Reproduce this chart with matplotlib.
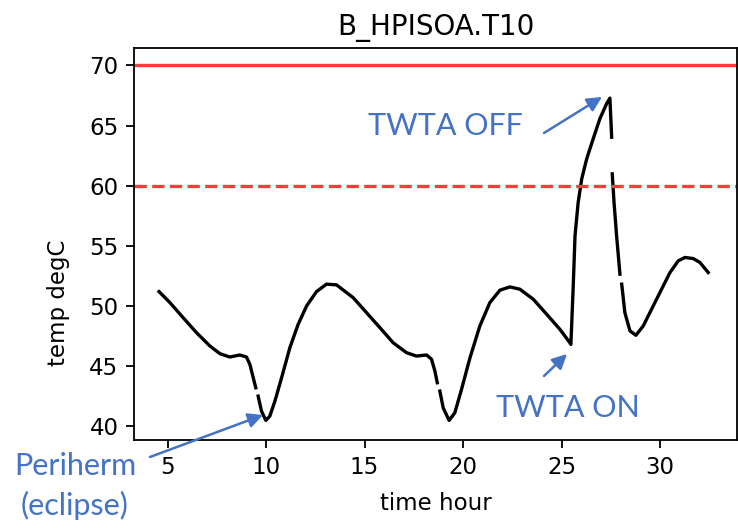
import numpy as np
import matplotlib
matplotlib.use("Agg")
import matplotlib.pyplot as plt

# readings of B_HPISOA.T10 (hours, degC); NaN marks the breaks in the trace
hours = [4.57, 5.12, 5.79, 6.47, 7.15, 7.66, 8.16, 8.67, 9.01, 9.18, 9.35, 9.48, np.nan,
         9.60, 9.77, 9.99, 10.19, 10.45, 10.79, 11.21, 11.63, 12.06, 12.56, 13.07, 13.58,
         13.75, 14.42, 15.10, 15.78, 16.45, 17.13, 17.64, 18.15, 18.40, 18.57, 18.69, np.nan,
         18.82, 18.99, 19.29, 19.58, 19.92, 20.35, 20.85, 21.36, 21.87, 22.38, 22.88, 23.56,
         24.24, 24.91, 25.42, 25.47, 25.59, 25.68, 25.84, 26.02, 26.27, 26.60, 26.94, 27.28,
         27.45, 27.54, np.nan,
         27.57, 27.66, 27.79, 27.96, np.nan,
         28.05, 28.21, 28.47, 28.77, 29.14, 29.82, 30.50, 30.92, 31.26, 31.68, 32.02, 32.44]
temps = [51.19, 50.28, 49.03, 47.78, 46.67, 46.03, 45.75, 45.92, 45.75, 45.14, 44.03, 43.19, np.nan,
         42.50, 41.25, 40.48, 40.83, 42.08, 44.03, 46.53, 48.47, 50.00, 51.19, 51.81, 51.75,
         51.53, 50.69, 49.44, 48.19, 46.94, 46.11, 45.83, 45.92, 45.56, 44.58, 43.61, np.nan,
         42.92, 41.53, 40.48, 41.11, 43.06, 45.69, 48.33, 50.28, 51.31, 51.58, 51.39, 50.56,
         49.31, 48.06, 46.94, 46.80, 51.67, 55.83, 58.61, 60.56, 62.22, 63.89, 65.56, 66.81,
         67.28, 64.03, np.nan,
         60.98, 58.61, 55.83, 52.64, np.nan,
         51.81, 49.44, 47.92, 47.56, 48.33, 50.56, 52.78, 53.75, 54.03, 53.94, 53.61, 52.78]

red_limit = 70
yellow_limit = 60

blue = "#4472C4"
red = "#ff3b3b"

fig = plt.figure(figsize=(7.38, 5.28), dpi=100)
ax = fig.add_axes([134 / 738, 88 / 528, 603 / 738, 392 / 528])

ax.plot(hours, temps, color="black", lw=2.4)
ax.axhline(red_limit, color=red, lw=2.4)
ax.axhline(yellow_limit, color=red, lw=2.4, linestyle="--")

ax.set_xlim(3.3, 33.9)
ax.set_ylim(38.85, 71.45)
ax.set_xticks([5, 10, 15, 20, 25, 30])
ax.set_yticks([40, 45, 50, 55, 60, 65, 70])
ax.tick_params(labelsize=16.5, length=5.6, width=1.3, pad=5.6)
for s in ax.spines.values():
    s.set_linewidth(1.3)

ax.set_title("B_HPISOA.T10", fontsize=20, pad=9)
ax.set_xlabel("time hour", fontsize=16.5, labelpad=10)
ax.set_ylabel("temp degC", fontsize=16.5)
ax.yaxis.set_label_coords(-0.106, 0.349)

# callouts (pasted on in blue, outside the plot too)
font = dict(family=["Lato", "DejaVu Sans"], fontsize=22, color=blue)
fig.text(368 / 738, 1 - 135 / 528, "TWTA OFF", ha="left", va="baseline", **font)
fig.text(496 / 738, 1 - 417 / 528, "TWTA ON", ha="left", va="baseline", **font)
fig.text(75 / 738, 1 - 475 / 528, "Periherm", ha="center", va="baseline", **font)
fig.text(75 / 738, 1 - 515 / 528, "(eclipse)", ha="center", va="baseline", **font)

arrows = [((544, 133), (602, 97)),
          ((544, 376), (567, 354)),
          ((150, 457), (263, 415))]
for tail, head in arrows:
    ax.annotate("", xy=(head[0], 528 - head[1]), xytext=(tail[0], 528 - tail[1]),
                xycoords="figure pixels", textcoords="figure pixels",
                arrowprops=dict(arrowstyle="-|>", color=blue, lw=1.8,
                                mutation_scale=22, shrinkA=0, shrinkB=0))

fig.savefig("out.png", dpi=100)
